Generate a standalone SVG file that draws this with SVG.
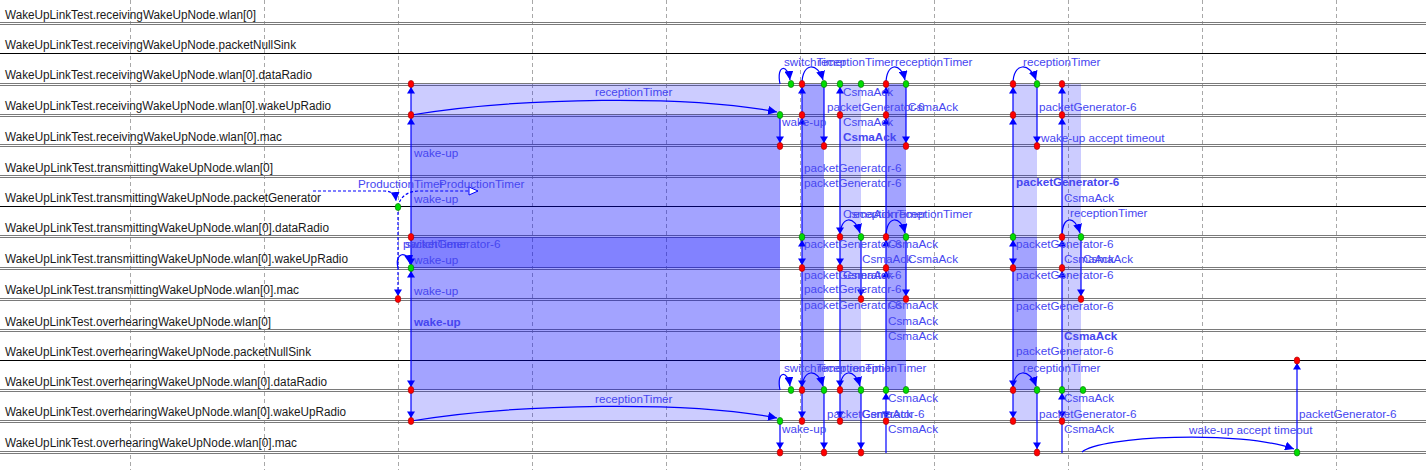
<svg xmlns="http://www.w3.org/2000/svg" width="1426" height="470" viewBox="0 0 1426 470">
<style>
.bg{fill:#ffffff}
.grid{stroke:#a8a8a8;stroke-width:1;stroke-dasharray:4,3}
.ax{stroke:#7a7a7a;stroke-width:1}
.axb{stroke:#000000;stroke-width:1}
.mod{font-family:"Liberation Sans",Arial,sans-serif;font-size:12.5px;fill:#1a1a1a}
.msg{font-family:"Liberation Sans",Arial,sans-serif;font-size:11.7px;fill:#4646f0}
.b{font-weight:bold}
.ln{stroke:#0000ff;stroke-width:1.2;fill:none}
.dl{stroke:#0000ff;stroke-width:1.2;fill:none;stroke-dasharray:3,2}
.t1{fill:#0000ff;fill-opacity:0.2}
.t2{fill:#0000ff;fill-opacity:0.36}
.t3{fill:#0000ff;fill-opacity:0.49}
.r{fill:#ff0000;stroke:#a00000;stroke-width:0.6}
.g{fill:#00dd00;stroke:#007000;stroke-width:0.6}
.ah{fill:#0000ff}
</style>
<defs>
<marker id="a" markerUnits="userSpaceOnUse" markerWidth="9" markerHeight="9" refX="9" refY="4.5" orient="auto"><path d="M0,0 L9,4.5 L0,9 z" fill="#0000ff"/></marker>
<marker id="h" markerUnits="userSpaceOnUse" markerWidth="12" markerHeight="10" refX="10" refY="5" orient="auto"><path d="M1,1 L10,5 L1,9 z" fill="#ffffff" stroke="#0000ff" stroke-width="1"/></marker>
<path id="up" d="M0,3 L-4,9.5 L4,9.5 z"/>
<path id="dn" d="M0,-3 L-4,-9.5 L4,-9.5 z"/>
</defs>
<rect class="bg" x="0" y="0" width="1426" height="470"/>

<g id="grid">
<line class="grid" x1="130.5" y1="0" x2="130.5" y2="470"/>
<line class="grid" x1="264.5" y1="0" x2="264.5" y2="470"/>
<line class="grid" x1="398.5" y1="0" x2="398.5" y2="470"/>
<line class="grid" x1="532.5" y1="0" x2="532.5" y2="470"/>
<line class="grid" x1="666.5" y1="0" x2="666.5" y2="470"/>
<line class="grid" x1="800.5" y1="0" x2="800.5" y2="470"/>
<line class="grid" x1="934.5" y1="0" x2="934.5" y2="470"/>
<line class="grid" x1="1068.5" y1="0" x2="1068.5" y2="470"/>
<line class="grid" x1="1202.5" y1="0" x2="1202.5" y2="470"/>
<line class="grid" x1="1336.5" y1="0" x2="1336.5" y2="470"/>
</g>

<g id="axes">
<line class="ax" x1="0" y1="22.5" x2="1426" y2="22.5"/><line class="ax" x1="0" y1="24.5" x2="1426" y2="24.5"/>
<line class="axb" x1="0" y1="53.5" x2="1426" y2="53.5"/>
<line class="ax" x1="0" y1="83.5" x2="1426" y2="83.5"/><line class="ax" x1="0" y1="85.5" x2="1426" y2="85.5"/>
<line class="ax" x1="0" y1="114.5" x2="1426" y2="114.5"/><line class="ax" x1="0" y1="116.5" x2="1426" y2="116.5"/>
<line class="ax" x1="0" y1="144.5" x2="1426" y2="144.5"/><line class="ax" x1="0" y1="146.5" x2="1426" y2="146.5"/>
<line class="ax" x1="0" y1="175.5" x2="1426" y2="175.5"/><line class="ax" x1="0" y1="177.5" x2="1426" y2="177.5"/>
<line class="axb" x1="0" y1="206.5" x2="1426" y2="206.5"/>
<line class="ax" x1="0" y1="235.5" x2="1426" y2="235.5"/><line class="ax" x1="0" y1="237.5" x2="1426" y2="237.5"/>
<line class="ax" x1="0" y1="267.5" x2="1426" y2="267.5"/><line class="ax" x1="0" y1="269.5" x2="1426" y2="269.5"/>
<line class="ax" x1="0" y1="298.5" x2="1426" y2="298.5"/><line class="ax" x1="0" y1="300.5" x2="1426" y2="300.5"/>
<line class="ax" x1="0" y1="329.5" x2="1426" y2="329.5"/><line class="ax" x1="0" y1="331.5" x2="1426" y2="331.5"/>
<line class="axb" x1="0" y1="360.5" x2="1426" y2="360.5"/>
<line class="ax" x1="0" y1="389.5" x2="1426" y2="389.5"/><line class="ax" x1="0" y1="391.5" x2="1426" y2="391.5"/>
<line class="ax" x1="0" y1="420.5" x2="1426" y2="420.5"/><line class="ax" x1="0" y1="422.5" x2="1426" y2="422.5"/>
<line class="ax" x1="0" y1="451.5" x2="1426" y2="451.5"/><line class="ax" x1="0" y1="453.5" x2="1426" y2="453.5"/>
</g>

<g id="transmissions">
<rect class="t1" x="411" y="84" width="369" height="31"/>
<rect class="t2" x="411" y="115" width="369" height="122"/>
<rect class="t3" x="411" y="237" width="369" height="31"/>
<rect class="t2" x="411" y="268" width="369" height="122"/>
<rect class="t1" x="411" y="390" width="369" height="31"/>
<rect class="t2" x="802" y="84" width="22" height="306"/>
<rect class="t1" x="802" y="390" width="22" height="31"/>
<rect class="t1" x="840" y="84" width="21" height="337"/>
<rect class="t2" x="886" y="84" width="20" height="306"/>
<rect class="t1" x="1013" y="84" width="24" height="153"/>
<rect class="t2" x="1013" y="237" width="24" height="153"/>
<rect class="t1" x="1013" y="390" width="24" height="31"/>
<rect class="t1" x="1062" y="84" width="19" height="337"/>
</g>

<g id="modules">
<g id="m0"><text class="mod" x="5" y="19" textLength="251" lengthAdjust="spacingAndGlyphs">WakeUpLinkTest.receivingWakeUpNode.wlan[0]</text></g>
<g id="m1"><text class="mod" x="5" y="49" textLength="291" lengthAdjust="spacingAndGlyphs">WakeUpLinkTest.receivingWakeUpNode.packetNullSink</text></g>
<g id="m2"><text class="mod" x="5" y="79" textLength="307" lengthAdjust="spacingAndGlyphs">WakeUpLinkTest.receivingWakeUpNode.wlan[0].dataRadio</text></g>
<g id="m3"><text class="mod" x="5" y="110" textLength="326" lengthAdjust="spacingAndGlyphs">WakeUpLinkTest.receivingWakeUpNode.wlan[0].wakeUpRadio</text></g>
<g id="m4"><text class="mod" x="5" y="141" textLength="277" lengthAdjust="spacingAndGlyphs">WakeUpLinkTest.receivingWakeUpNode.wlan[0].mac</text></g>
<g id="m5"><text class="mod" x="5" y="172" textLength="268" lengthAdjust="spacingAndGlyphs">WakeUpLinkTest.transmittingWakeUpNode.wlan[0]</text></g>
<g id="m6"><text class="mod" x="5" y="202" textLength="316" lengthAdjust="spacingAndGlyphs">WakeUpLinkTest.transmittingWakeUpNode.packetGenerator</text></g>
<g id="m7"><text class="mod" x="5" y="232" textLength="324" lengthAdjust="spacingAndGlyphs">WakeUpLinkTest.transmittingWakeUpNode.wlan[0].dataRadio</text></g>
<g id="m8"><text class="mod" x="5" y="263" textLength="343" lengthAdjust="spacingAndGlyphs">WakeUpLinkTest.transmittingWakeUpNode.wlan[0].wakeUpRadio</text></g>
<g id="m9"><text class="mod" x="5" y="294" textLength="294" lengthAdjust="spacingAndGlyphs">WakeUpLinkTest.transmittingWakeUpNode.wlan[0].mac</text></g>
<g id="m10"><text class="mod" x="5" y="326" textLength="266" lengthAdjust="spacingAndGlyphs">WakeUpLinkTest.overhearingWakeUpNode.wlan[0]</text></g>
<g id="m11"><text class="mod" x="5" y="356" textLength="306" lengthAdjust="spacingAndGlyphs">WakeUpLinkTest.overhearingWakeUpNode.packetNullSink</text></g>
<g id="m12"><text class="mod" x="5" y="386" textLength="322" lengthAdjust="spacingAndGlyphs">WakeUpLinkTest.overhearingWakeUpNode.wlan[0].dataRadio</text></g>
<g id="m13"><text class="mod" x="5" y="416" textLength="341" lengthAdjust="spacingAndGlyphs">WakeUpLinkTest.overhearingWakeUpNode.wlan[0].wakeUpRadio</text></g>
<g id="m14"><text class="mod" x="5" y="447" textLength="292" lengthAdjust="spacingAndGlyphs">WakeUpLinkTest.overhearingWakeUpNode.wlan[0].mac</text></g>
</g>

<g id="connectors">
<line class="dl" x1="398" y1="207" x2="398" y2="296"/>
<line class="ln" x1="411" y1="84" x2="411" y2="421"/>
<line class="ln" x1="780" y1="115" x2="780" y2="146"/>
<line class="ln" x1="780" y1="421" x2="780" y2="452"/>
<line class="ln" x1="802" y1="84" x2="802" y2="421"/>
<line class="ln" x1="824" y1="84" x2="824" y2="146"/>
<line class="ln" x1="824" y1="390" x2="824" y2="452"/>
<line class="ln" x1="840" y1="84" x2="840" y2="421"/>
<line class="ln" x1="861" y1="237" x2="861" y2="299"/>
<line class="ln" x1="861" y1="390" x2="861" y2="452"/>
<line class="ln" x1="886" y1="84" x2="886" y2="453"/>
<line class="ln" x1="906" y1="84" x2="906" y2="146"/>
<line class="ln" x1="906" y1="237" x2="906" y2="299"/>
<line class="ln" x1="1013" y1="84" x2="1013" y2="421"/>
<line class="ln" x1="1037" y1="84" x2="1037" y2="146"/>
<line class="ln" x1="1037" y1="390" x2="1037" y2="452"/>
<line class="ln" x1="1062" y1="84" x2="1062" y2="453"/>
<line class="ln" x1="1081" y1="237" x2="1081" y2="299"/>
<line class="ln" x1="1297" y1="360" x2="1297" y2="452"/>
<path class="dl" d="M313,191 H384 Q395,191 396,201" marker-end="url(#a)"/>
<path class="dl" d="M398,207 Q401,192 418,191 H478" marker-end="url(#h)"/>
<path class="ln" d="M411,115 C520,97 690,95 777,112" marker-end="url(#a)"/>
<path class="ln" d="M411,421 C520,403 690,401 777,418" marker-end="url(#a)"/>
<path class="ln" d="M1082,452 C1100,436 1240,430 1294,449" marker-end="url(#a)"/>
<path class="ln" d="M398,268 C394,252 408,250 410,264" marker-end="url(#a)"/>
<path class="ln" d="M780,84 C776,64 788,64 790,80" marker-end="url(#a)"/>
<path class="ln" d="M802,84 C802,62 818,62 823,80" marker-end="url(#a)"/>
<path class="ln" d="M886,84 C886,62 901,62 905,80" marker-end="url(#a)"/>
<path class="ln" d="M840,237 C840,215 855,215 860,233" marker-end="url(#a)"/>
<path class="ln" d="M886,237 C886,215 901,215 905,233" marker-end="url(#a)"/>
<path class="ln" d="M780,390 C776,370 788,370 790,386" marker-end="url(#a)"/>
<path class="ln" d="M802,390 C802,368 818,368 823,386" marker-end="url(#a)"/>
<path class="ln" d="M840,390 C840,368 855,368 860,386" marker-end="url(#a)"/>
<path class="ln" d="M1013,84 C1013,62 1030,62 1036,80" marker-end="url(#a)"/>
<path class="ln" d="M1062,237 C1062,215 1075,215 1080,233" marker-end="url(#a)"/>
<path class="ln" d="M1013,390 C1013,368 1030,368 1036,386" marker-end="url(#a)"/>
<g class="ah">
<use href="#dn" x="398" y="299"/>
<use href="#up" x="411" y="84"/><use href="#up" x="411" y="115"/><use href="#dn" x="411" y="268"/><use href="#up" x="411" y="268"/><use href="#dn" x="411" y="390"/><use href="#dn" x="411" y="421"/>
<use href="#dn" x="780" y="146"/><use href="#dn" x="780" y="452"/>
<use href="#up" x="802" y="84"/><use href="#up" x="802" y="115"/><use href="#up" x="802" y="237"/><use href="#dn" x="802" y="268"/><use href="#dn" x="802" y="390"/><use href="#dn" x="802" y="421"/>
<use href="#dn" x="824" y="146"/><use href="#dn" x="824" y="452"/>
<use href="#up" x="840" y="84"/><use href="#dn" x="840" y="237"/><use href="#dn" x="840" y="268"/><use href="#dn" x="840" y="390"/><use href="#dn" x="840" y="421"/>
<use href="#dn" x="861" y="299"/><use href="#dn" x="861" y="452"/>
<use href="#up" x="886" y="84"/><use href="#up" x="886" y="115"/><use href="#up" x="886" y="237"/><use href="#up" x="886" y="268"/><use href="#up" x="886" y="390"/><use href="#dn" x="886" y="421"/>
<use href="#dn" x="906" y="146"/><use href="#dn" x="906" y="299"/>
<use href="#up" x="1013" y="84"/><use href="#up" x="1013" y="115"/><use href="#up" x="1013" y="237"/><use href="#dn" x="1013" y="268"/><use href="#dn" x="1013" y="390"/><use href="#dn" x="1013" y="421"/>
<use href="#dn" x="1037" y="146"/><use href="#dn" x="1037" y="452"/>
<use href="#up" x="1062" y="84"/><use href="#up" x="1062" y="115"/><use href="#up" x="1062" y="237"/><use href="#up" x="1062" y="268"/><use href="#up" x="1062" y="390"/><use href="#dn" x="1062" y="421"/>
<use href="#dn" x="1081" y="299"/>
<use href="#up" x="1297" y="360"/>
</g>
</g>

<g id="events">
<ellipse class="g" cx="398" cy="207" rx="2.8" ry="3.6"/>
<ellipse class="r" cx="398" cy="299" rx="2.8" ry="3.6"/>
<ellipse class="r" cx="411" cy="84" rx="2.8" ry="3.6"/>
<ellipse class="r" cx="411" cy="115" rx="2.8" ry="3.6"/>
<ellipse class="r" cx="411" cy="237" rx="2.8" ry="3.6"/>
<ellipse class="g" cx="411" cy="268" rx="2.8" ry="3.6"/>
<ellipse class="r" cx="411" cy="390" rx="2.8" ry="3.6"/>
<ellipse class="r" cx="411" cy="421" rx="2.8" ry="3.6"/>
<ellipse class="g" cx="791" cy="84" rx="2.8" ry="3.6"/>
<ellipse class="r" cx="802" cy="84" rx="2.8" ry="3.6"/>
<ellipse class="g" cx="824" cy="84" rx="2.8" ry="3.6"/>
<ellipse class="g" cx="840" cy="84" rx="2.8" ry="3.6"/>
<ellipse class="g" cx="861" cy="84" rx="2.8" ry="3.6"/>
<ellipse class="r" cx="886" cy="84" rx="2.8" ry="3.6"/>
<ellipse class="g" cx="906" cy="84" rx="2.8" ry="3.6"/>
<ellipse class="g" cx="780" cy="115" rx="2.8" ry="3.6"/>
<ellipse class="r" cx="802" cy="115" rx="2.8" ry="3.6"/>
<ellipse class="r" cx="840" cy="115" rx="2.8" ry="3.6"/>
<ellipse class="r" cx="886" cy="115" rx="2.8" ry="3.6"/>
<ellipse class="r" cx="780" cy="146" rx="2.8" ry="3.6"/>
<ellipse class="r" cx="824" cy="146" rx="2.8" ry="3.6"/>
<ellipse class="r" cx="906" cy="146" rx="2.8" ry="3.6"/>
<ellipse class="g" cx="802" cy="237" rx="2.8" ry="3.6"/>
<ellipse class="r" cx="840" cy="237" rx="2.8" ry="3.6"/>
<ellipse class="g" cx="861" cy="237" rx="2.8" ry="3.6"/>
<ellipse class="r" cx="886" cy="237" rx="2.8" ry="3.6"/>
<ellipse class="g" cx="906" cy="237" rx="2.8" ry="3.6"/>
<ellipse class="r" cx="802" cy="268" rx="2.8" ry="3.6"/>
<ellipse class="r" cx="840" cy="268" rx="2.8" ry="3.6"/>
<ellipse class="r" cx="886" cy="268" rx="2.8" ry="3.6"/>
<ellipse class="r" cx="861" cy="299" rx="2.8" ry="3.6"/>
<ellipse class="r" cx="906" cy="299" rx="2.8" ry="3.6"/>
<ellipse class="g" cx="791" cy="390" rx="2.8" ry="3.6"/>
<ellipse class="r" cx="802" cy="390" rx="2.8" ry="3.6"/>
<ellipse class="g" cx="824" cy="390" rx="2.8" ry="3.6"/>
<ellipse class="r" cx="840" cy="390" rx="2.8" ry="3.6"/>
<ellipse class="g" cx="861" cy="390" rx="2.8" ry="3.6"/>
<ellipse class="g" cx="886" cy="390" rx="2.8" ry="3.6"/>
<ellipse class="g" cx="906" cy="390" rx="2.8" ry="3.6"/>
<ellipse class="g" cx="780" cy="421" rx="2.8" ry="3.6"/>
<ellipse class="r" cx="802" cy="421" rx="2.8" ry="3.6"/>
<ellipse class="r" cx="840" cy="421" rx="2.8" ry="3.6"/>
<ellipse class="r" cx="886" cy="421" rx="2.8" ry="3.6"/>
<ellipse class="r" cx="780" cy="452.5" rx="2.8" ry="3.6"/>
<ellipse class="r" cx="824" cy="452.5" rx="2.8" ry="3.6"/>
<ellipse class="r" cx="861" cy="452.5" rx="2.8" ry="3.6"/>
<ellipse class="r" cx="1013" cy="84" rx="2.8" ry="3.6"/>
<ellipse class="g" cx="1037" cy="84" rx="2.8" ry="3.6"/>
<ellipse class="r" cx="1062" cy="84" rx="2.8" ry="3.6"/>
<ellipse class="r" cx="1013" cy="115" rx="2.8" ry="3.6"/>
<ellipse class="r" cx="1062" cy="115" rx="2.8" ry="3.6"/>
<ellipse class="r" cx="1037" cy="146" rx="2.8" ry="3.6"/>
<ellipse class="g" cx="1013" cy="237" rx="2.8" ry="3.6"/>
<ellipse class="r" cx="1062" cy="237" rx="2.8" ry="3.6"/>
<ellipse class="g" cx="1081" cy="237" rx="2.8" ry="3.6"/>
<ellipse class="r" cx="1013" cy="268" rx="2.8" ry="3.6"/>
<ellipse class="r" cx="1062" cy="268" rx="2.8" ry="3.6"/>
<ellipse class="r" cx="1081" cy="299" rx="2.8" ry="3.6"/>
<ellipse class="r" cx="1013" cy="390" rx="2.8" ry="3.6"/>
<ellipse class="g" cx="1037" cy="390" rx="2.8" ry="3.6"/>
<ellipse class="g" cx="1062" cy="390" rx="2.8" ry="3.6"/>
<ellipse class="g" cx="1083" cy="390" rx="2.8" ry="3.6"/>
<ellipse class="r" cx="1013" cy="421" rx="2.8" ry="3.6"/>
<ellipse class="r" cx="1062" cy="421" rx="2.8" ry="3.6"/>
<ellipse class="r" cx="1037" cy="452.5" rx="2.8" ry="3.6"/>
<ellipse class="r" cx="1297" cy="360.5" rx="2.8" ry="3.6"/>
<ellipse class="g" cx="1297" cy="452.5" rx="2.8" ry="3.6"/>
</g>

<g id="labels">
<text class="msg" x="358" y="188">ProductionTimer</text>
<text class="msg" x="439" y="188">ProductionTimer</text>
<text class="msg" x="414" y="157">wake-up</text>
<text class="msg" x="414" y="203">wake-up</text>
<text class="msg" x="403" y="248">packetGenerator-6</text>
<text class="msg" x="405" y="248">switchTimer</text>
<text class="msg" x="414" y="264">wake-up</text>
<text class="msg" x="414" y="295">wake-up</text>
<text class="msg b" x="414" y="326">wake-up</text>
<text class="msg" x="595" y="96">receptionTimer</text>
<text class="msg" x="595" y="403">receptionTimer</text>
<text class="msg" x="784" y="66">switchTimer</text>
<text class="msg" x="817" y="66">receptionTimer</text>
<text class="msg" x="895" y="66">receptionTimer</text>
<text class="msg" x="843" y="96">CsmaAck</text>
<text class="msg" x="827" y="111">packetGenerator-6</text>
<text class="msg" x="908" y="111">CsmaAck</text>
<text class="msg" x="782" y="126">wake-up</text>
<text class="msg" x="843" y="126">CsmaAck</text>
<text class="msg b" x="843" y="141">CsmaAck</text>
<text class="msg" x="804" y="172">packetGenerator-6</text>
<text class="msg" x="804" y="187">packetGenerator-6</text>
<text class="msg" x="843" y="218">CsmaAck</text>
<text class="msg" x="849" y="218">receptionTimer</text>
<text class="msg" x="895" y="218">receptionTimer</text>
<text class="msg" x="804" y="248">packetGenerator-6</text>
<text class="msg" x="888" y="248">CsmaAck</text>
<text class="msg" x="862" y="263">CsmaAck</text>
<text class="msg" x="908" y="263">CsmaAck</text>
<text class="msg" x="804" y="279">packetGenerator-6</text>
<text class="msg" x="843" y="279">CsmaAck</text>
<text class="msg" x="804" y="293">packetGenerator-6</text>
<text class="msg" x="804" y="309">packetGenerator-6</text>
<text class="msg" x="888" y="309">CsmaAck</text>
<text class="msg" x="888" y="325">CsmaAck</text>
<text class="msg" x="888" y="340">CsmaAck</text>
<text class="msg" x="784" y="372">switchTimer</text>
<text class="msg" x="817" y="372">receptionTimer</text>
<text class="msg" x="849" y="372">receptionTimer</text>
<text class="msg" x="888" y="402">CsmaAck</text>
<text class="msg" x="827" y="418">packetGenerator-6</text>
<text class="msg" x="862" y="418">CsmaAck</text>
<text class="msg" x="782" y="433">wake-up</text>
<text class="msg" x="888" y="433">CsmaAck</text>
<text class="msg" x="1023" y="66">receptionTimer</text>
<text class="msg" x="1039" y="111">packetGenerator-6</text>
<text class="msg" x="1041" y="142">wake-up accept timeout</text>
<text class="msg b" x="1016" y="186">packetGenerator-6</text>
<text class="msg" x="1064" y="202">CsmaAck</text>
<text class="msg" x="1070" y="217">receptionTimer</text>
<text class="msg" x="1016" y="248">packetGenerator-6</text>
<text class="msg" x="1064" y="263">CsmaAck</text>
<text class="msg" x="1083" y="263">CsmaAck</text>
<text class="msg" x="1016" y="279">packetGenerator-6</text>
<text class="msg" x="1016" y="310">packetGenerator-6</text>
<text class="msg b" x="1064" y="340">CsmaAck</text>
<text class="msg" x="1016" y="355">packetGenerator-6</text>
<text class="msg" x="1023" y="372">receptionTimer</text>
<text class="msg" x="1064" y="402">CsmaAck</text>
<text class="msg" x="1039" y="418">packetGenerator-6</text>
<text class="msg" x="1064" y="433">CsmaAck</text>
<text class="msg" x="1189" y="434">wake-up accept timeout</text>
<text class="msg" x="1299" y="418">packetGenerator-6</text>
</g>
</svg>
